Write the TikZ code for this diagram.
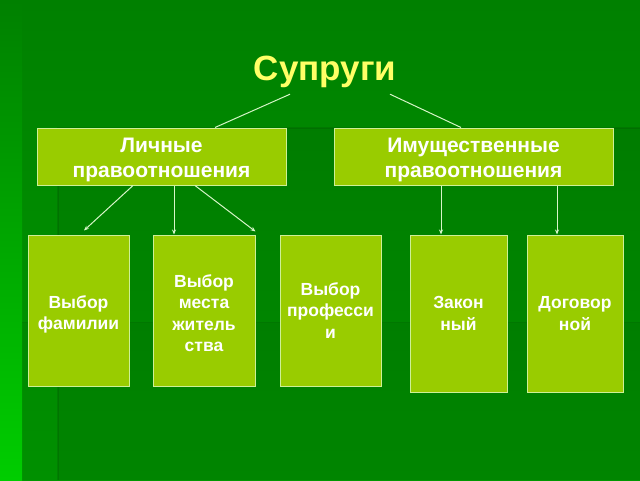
\documentclass[tikz,border=0pt]{standalone}
\usepackage{fontspec}
\setmainfont{Liberation Sans}
\usetikzlibrary{arrows.meta}
\definecolor{bgtop}{RGB}{0,128,0}
\definecolor{bgbot}{RGB}{0,152,0}
\definecolor{stripbot}{RGB}{0,205,0}
\definecolor{boxfill}{RGB}{153,204,0}
\definecolor{boxline}{RGB}{205,240,150}
\definecolor{linkcol}{RGB}{215,245,200}
\definecolor{titlecol}{RGB}{255,255,102}
\begin{document}
\begin{tikzpicture}[x=1pt,y=-1pt,
  box/.style={draw=boxline, line width=1pt, fill=boxfill, inner sep=0pt},
  boxtext/.style={text=white, align=center, inner sep=0pt},
  toptext/.style={boxtext, font=\fontsize{21}{25}\selectfont\bfseries},
  lowtext/.style={boxtext, font=\fontsize{17.5}{21.5}\selectfont\bfseries},
  link/.style={draw=linkcol, line width=1pt},
  arr/.style={link, -{Stealth[length=5pt,width=4pt]}}]
% background
\useasboundingbox (0,0) rectangle (640,480);
\shade[top color=bgtop, bottom color=bgbot] (0,0) rectangle (640,480);
\shade[top color=bgtop, bottom color=stripbot] (0,0) rectangle (22,480);
\fill[black, opacity=0.05] (22,322) rectangle (640,480);
\fill[black, opacity=0.07] (58,128) rectangle (640,480);
\draw[black, opacity=0.10, line width=1.5pt] (58,480) -- (58,128) -- (640,128);
\draw[black, opacity=0.05, line width=1pt] (22,322) -- (640,322);

% title
\node[font=\fontsize{35}{40}\selectfont\bfseries, text=titlecol, anchor=base,
  text depth=8pt, inner sep=6pt] (title) at (325,80) {Супруги};

% top boxes
\node[box, minimum width=249pt, minimum height=57pt] (lich) at (161.5,156.5) {};
\node[toptext] (licht) at ([yshift=-3.5pt]lich.center) {Личные\\правоотношения};
\node[box, minimum width=279pt, minimum height=57pt] (imu) at (473.5,156.5) {};
\node[toptext] (imut) at ([yshift=-3.5pt]imu.center) {Имущественные\\правоотношения};

% lower boxes
\node[box, minimum width=101pt, minimum height=151pt] (b1) at (78.5,310.5) {};
\node[lowtext] (b1t) at ([yshift=-4pt]b1.center) {Выбор\\фамилии};
\node[box, minimum width=102pt, minimum height=151pt] (b2) at (204,310.5) {};
\node[lowtext] (b2t) at ([yshift=-2.5pt]b2.center) {Выбор\\места\\житель\\ства};
\node[box, minimum width=101pt, minimum height=151pt] (b3) at (330.5,310.5) {};
\node[lowtext] (b3t) at (b3.center) {Выбор\\професси\\и};
\node[box, minimum width=97pt, minimum height=157pt] (b4) at (458.5,313.5) {};
\node[lowtext] (b4t) at (b4.center) {Закон\\ный};
\node[box, minimum width=96pt, minimum height=157pt] (b5) at (575,313.5) {};
\node[lowtext] (b5t) at (b5.center) {Договор\\ной};

% connectors
\draw[link] ([xshift=-35pt]title.south) -- ([xshift=53.5pt]lich.north);
\draw[link] ([xshift=65pt]title.south) -- ([xshift=-12.5pt]imu.north);
\draw[arr] ([xshift=-28.5pt]lich.south) -- ([xshift=5.5pt,yshift=4pt]b1.north);
\draw[arr] ([xshift=12.5pt]lich.south) -- ([xshift=-30pt]b2.north);
\draw[arr] ([xshift=33.5pt]lich.south) -- ([yshift=3pt]b2.north east);
\draw[arr] ([xshift=-32.5pt]imu.south) -- ([xshift=-17.5pt]b4.north);
\draw[arr] ([xshift=83.5pt]imu.south) -- ([xshift=-18pt]b5.north);
\end{tikzpicture}
\end{document}
